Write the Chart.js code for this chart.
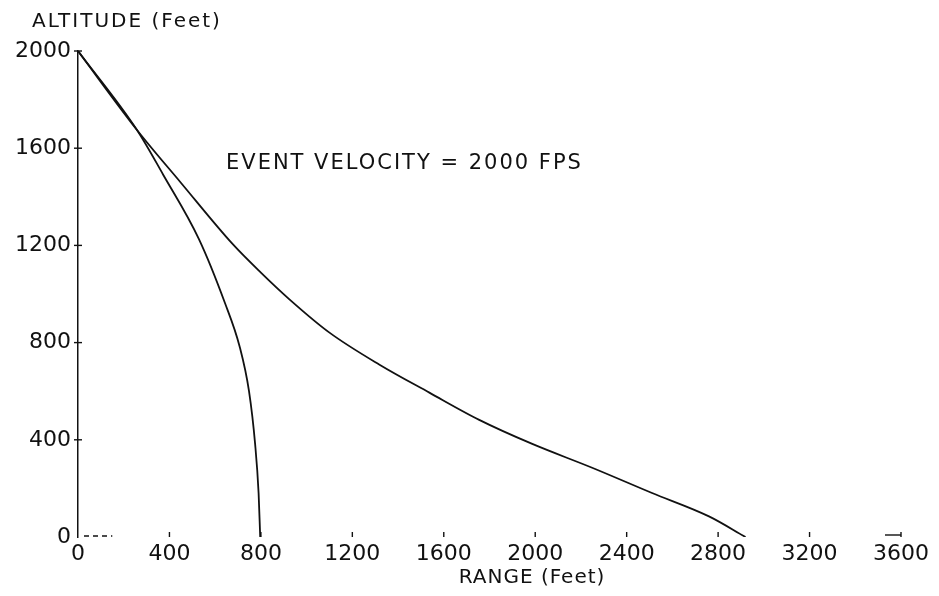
<!DOCTYPE html>
<html>
<head>
<meta charset="utf-8">
<script src="https://cdn.jsdelivr.net/npm/chart.js@4.4.1/dist/chart.umd.min.js"></script>
<style>
  html, body { margin: 0; padding: 0; background: #fff; }
  #wrap { width: 939px; height: 596px; }
</style>
</head>
<body>
<div id="wrap"><canvas id="c" width="939" height="596"></canvas></div>
<script>
// ---- data ----
const xTicks = [0, 400, 800, 1200, 1600, 2000, 2400, 2800, 3200, 3600];
const yTicks = [0, 400, 800, 1200, 1600, 2000];

// long trajectory (range, altitude)
const outerRange = [0, 258, 450, 677, 800, 926, 1100, 1319, 1537, 1755, 1987, 2249, 2511, 2760, 2920];
const outerAlt   = [2000, 1675, 1458, 1205, 1088, 977, 841, 709, 594, 482, 383, 285, 181, 85, 0];

// short trajectory (range, altitude)
const innerRange = [0, 258, 372, 529, 642, 707, 748, 775, 790, 797];
const innerAlt   = [2000, 1675, 1492, 1226, 965, 784, 600, 380, 180, 0];

const xTitle = 'RANGE (Feet)';
const yTitle = 'ALTITUDE (Feet)';
const note = 'EVENT VELOCITY = 2000 FPS';

const toPts = (xs, ys) => xs.map((x, i) => ({ x: x, y: ys[i] }));

const FONT = 'DejaVu Sans';
const INK = '#111';

const decor = {
  id: 'decor',
  afterDraw(chart) {
    const ctx = chart.ctx;
    const xs = chart.scales.x, ys = chart.scales.y;
    const y0 = ys.getPixelForValue(0);
    const x0 = xs.getPixelForValue(0);
    ctx.save();
    ctx.strokeStyle = INK;
    ctx.lineWidth = 1.4;
    // x tick marks (upwards from baseline)
    xTicks.forEach(v => {
      if (v === 0) return;
      const px = xs.getPixelForValue(v);
      ctx.beginPath();
      ctx.moveTo(px, y0 - 5);
      ctx.lineTo(px, y0);
      ctx.stroke();
    });
    // short dashes near origin and at the right end
    ctx.setLineDash([5, 4]);
    ctx.beginPath();
    ctx.moveTo(x0 + 6, y0 - 1);
    ctx.lineTo(xs.getPixelForValue(150), y0 - 1);
    ctx.stroke();
    ctx.setLineDash([]);
    ctx.beginPath();
    ctx.moveTo(xs.getPixelForValue(3530), y0 - 2);
    ctx.lineTo(xs.getPixelForValue(3600), y0 - 2);
    ctx.stroke();
    // y cross ticks
    yTicks.forEach(v => {
      if (v === 0) return;
      const py = ys.getPixelForValue(v);
      ctx.beginPath();
      ctx.moveTo(x0 - 4, py);
      ctx.lineTo(x0 + 4, py);
      ctx.stroke();
    });
    // texts
    ctx.fillStyle = INK;
    ctx.textBaseline = 'middle';
    ctx.font = '20px "' + FONT + '"';
    try { ctx.letterSpacing = '2px'; } catch (e) {}
    ctx.textAlign = 'left';
    ctx.fillText(yTitle, 32, 22);
    try { ctx.letterSpacing = '1px'; } catch (e) {}
    ctx.textAlign = 'center';
    ctx.fillText(xTitle, 532, 578);
    ctx.font = '21px "' + FONT + '"';
    try { ctx.letterSpacing = '2px'; } catch (e) {}
    ctx.textAlign = 'left';
    ctx.fillText(note, 226, 164);
    ctx.restore();
  }
};

new Chart(document.getElementById('c'), {
  type: 'scatter',
  data: {
    datasets: [
      {
        data: toPts(outerRange, outerAlt),
        showLine: true,
        borderColor: INK,
        borderWidth: 1.8,
        pointRadius: 0,
        cubicInterpolationMode: 'monotone'
      },
      {
        data: toPts(innerRange, innerAlt),
        showLine: true,
        borderColor: INK,
        borderWidth: 1.8,
        pointRadius: 0,
        cubicInterpolationMode: 'monotone'
      }
    ]
  },
  options: {
    responsive: false,
    animation: false,
    events: [],
    layout: { padding: { top: 51, right: 38, left: 0, bottom: 0 } },
    plugins: { legend: { display: false }, tooltip: { enabled: false } },
    scales: {
      x: {
        type: 'linear',
        min: 0, max: 3600,
        afterFit(s) { s.height = 59; },
        afterBuildTicks(s) { s.ticks = xTicks.map(v => ({ value: v })); },
        grid: { display: false, drawTicks: false },
        border: { display: false },
        ticks: { color: INK, padding: 4, font: { family: FONT, size: 22 }, maxRotation: 0, autoSkip: false, callback: v => String(v) }
      },
      y: {
        type: 'linear',
        min: 0, max: 2000,
        afterFit(s) { s.width = 78; },
        afterBuildTicks(s) { s.ticks = yTicks.map(v => ({ value: v })); },
        grid: { display: false, drawTicks: false },
        border: { display: true, color: INK, width: 1.5 },
        ticks: { color: INK, padding: 7, font: { family: FONT, size: 22 }, callback: v => String(v) }
      }
    }
  },
  plugins: [decor]
});
</script>
</body>
</html>
